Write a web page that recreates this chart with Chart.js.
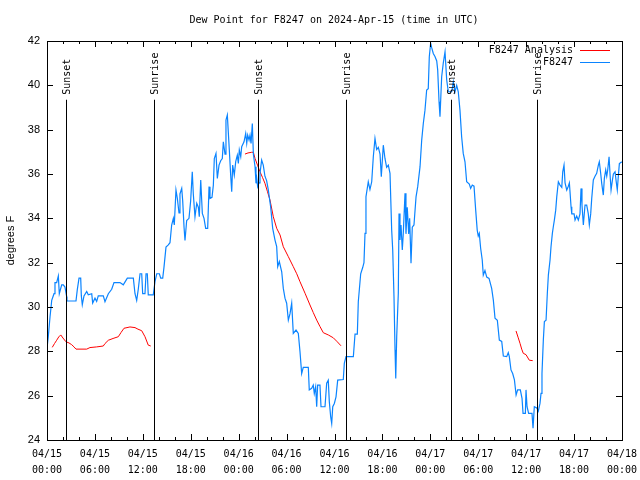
<!DOCTYPE html>
<html>
<head>
<meta charset="utf-8">
<script src="https://cdn.jsdelivr.net/npm/chart.js@4/dist/chart.umd.min.js"></script>
<style>
  body { margin: 0; background: #fff; }
  #wrap { width: 640px; height: 480px; }
</style>
</head>
<body>
<div id="wrap"><canvas id="dewChart" width="640" height="480"></canvas></div>
<script>
// hours since 2024-04-15 00:00 UTC
var obsHours = [0,0.16,0.38,0.59,0.88,1.00,1.21,1.42,1.54,1.84,2.04,2.25,2.47,2.5,3.63,3.79,4.01,4.22,4.30,4.42,4.63,4.97,5.17,5.60,5.72,6.01,6.22,6.42,7.05,7.26,7.68,8.10,8.39,9.14,9.55,9.89,10.06,10.81,11.02,11.23,11.43,11.65,11.86,11.98,12.27,12.40,12.56,12.68,13.31,13.52,13.74,14.07,14.24,14.49,14.65,14.90,15.19,15.40,15.61,15.82,15.94,16.15,16.32,16.53,16.65,16.87,16.99,17.16,17.28,17.49,17.78,17.99,18.19,18.32,18.53,18.75,18.95,19.07,19.25,19.45,19.66,19.87,20.12,20.29,20.41,20.66,20.83,20.95,21.16,21.33,21.54,21.75,21.95,22.08,22.29,22.41,22.58,22.70,22.83,23.00,23.13,23.25,23.45,23.63,23.83,23.96,24.08,24.26,24.38,24.67,24.88,25.01,25.13,25.30,25.42,25.55,25.71,25.84,26.05,26.17,26.26,26.38,26.55,26.67,26.88,27.08,27.29,27.50,27.71,28.01,28.26,28.55,28.76,28.89,29.09,29.39,29.59,29.80,30.01,30.22,30.43,30.64,30.84,31.18,31.47,31.68,31.89,32.09,32.72,32.84,33.14,33.34,33.47,33.64,33.77,33.89,34.18,34.31,34.81,35.02,35.22,35.35,35.52,35.65,35.78,35.98,36.19,36.40,37.10,37.23,37.44,38.36,38.57,38.86,38.98,39.28,39.53,39.69,39.82,39.94,40.23,40.44,40.66,40.86,41.07,41.28,41.49,41.70,41.86,42.11,42.32,42.53,42.74,42.95,43.16,43.29,43.45,43.58,43.67,43.79,43.99,44.08,44.20,44.33,44.49,44.61,44.83,44.95,45.11,45.29,45.41,45.58,45.74,45.95,46.21,46.42,46.71,46.92,47.12,47.33,47.54,47.74,47.87,48.04,48.17,48.37,48.58,48.80,48.92,49.09,49.21,49.42,49.62,49.84,50.05,50.25,50.68,50.88,51.09,51.30,51.50,51.71,51.92,52.12,52.34,52.55,52.88,53.05,53.25,53.47,53.68,53.87,54.00,54.13,54.30,54.50,54.63,54.84,55.06,55.35,55.68,55.89,56.10,56.39,56.64,56.94,57.14,57.56,57.76,57.89,58.10,58.31,58.53,58.74,58.93,59.27,59.48,59.61,59.90,59.98,60.11,60.31,60.73,60.86,61.02,61.32,61.52,61.73,61.86,61.98,62.15,62.28,62.49,62.65,62.78,62.99,63.11,63.28,63.40,63.53,63.70,63.83,64.03,64.24,64.46,64.58,64.74,64.87,65.08,65.28,65.41,65.49,65.62,65.71,66.00,66.12,66.33,66.53,66.74,66.87,66.99,67.16,67.37,67.58,67.78,67.91,68.08,68.21,68.41,68.62,68.83,69.04,69.16,69.34,69.46,69.66,69.79,69.96,70.09,70.21,70.38,70.50,70.63,70.79,70.92,71.13,71.26,71.41,71.54,71.67,71.97];
var obsDew = [28.14,28.66,29.56,30.3,30.6,31.1,31.1,31.4,30.6,31.0,31.0,30.9,30.46,30.27,30.27,30.77,31.3,31.3,30.5,30.1,30.5,30.7,30.55,30.6,30.18,30.4,30.25,30.5,30.5,30.24,30.6,30.8,31.1,31.1,31.0,31.2,31.3,31.3,30.6,30.3,30.8,31.5,31.5,30.6,30.6,31.5,31.5,30.55,30.55,31.14,31.5,31.5,31.3,31.3,31.8,32.7,32.8,32.9,33.7,34.0,33.7,35.28,34.9,34.24,35.1,35.35,34.8,33.6,33.0,33.9,34.0,34.8,36.1,35.1,34.07,34.68,34.5,34.07,35.73,34.22,34.0,33.55,33.55,35.43,34.9,34.95,35.5,36.7,36.93,35.8,36.4,36.6,36.7,37.45,36.9,38.43,38.66,37.9,37.08,35.95,35.2,36.4,35.95,36.56,36.85,36.48,37.08,36.78,37.23,37.45,37.83,37.38,37.75,37.53,37.75,37.38,38.28,36.9,36.33,35.58,35.8,35.43,35.6,36.03,36.63,36.4,35.9,35.7,35.28,34.5,33.55,33.02,32.72,31.82,32.05,31.59,30.84,30.4,30.17,29.41,29.7,30.17,28.81,28.96,28.81,27.98,27.0,27.28,27.28,26.26,26.33,26.48,26.1,26.4,25.5,26.48,26.48,25.5,25.5,26.56,26.7,25.73,25.05,24.75,25.5,25.65,25.95,26.7,26.73,27.46,27.76,27.76,28.78,28.78,30.24,31.5,31.78,32.0,33.32,34.97,35.65,35.3,35.65,36.78,37.6,37.1,37.2,36.9,35.88,37.3,36.7,36.3,36.4,36.03,33.47,32.57,30.46,28.06,26.78,28.66,30.62,34.22,33.02,33.7,32.57,33.3,35.13,33.3,34.5,33.3,34.0,31.97,33.6,33.7,34.97,35.43,36.33,37.53,38.28,38.88,39.79,39.85,41.29,41.9,41.7,41.44,41.3,41.1,40.7,39.26,38.58,40.39,41.0,41.51,40.24,39.71,39.71,40.16,39.71,40.0,39.71,38.88,37.68,36.93,36.55,35.65,35.55,35.35,35.5,35.45,34.37,33.47,33.2,33.32,32.65,32.12,31.44,31.65,31.35,31.29,30.84,30.31,29.49,29.4,28.51,28.45,27.79,27.76,27.94,27.76,27.16,27.0,26.71,26.03,26.26,26.26,25.88,25.2,25.2,26.26,25.5,25.2,25.2,24.53,25.5,25.45,25.3,25.65,26.1,27.0,28.51,29.34,29.4,30.62,31.44,32.12,32.72,33.32,33.62,33.92,34.37,34.97,35.65,35.5,35.4,36.1,36.4,35.6,35.28,35.45,35.6,35.2,34.52,34.2,34.2,33.92,34.1,33.92,34.2,35.35,34.6,33.7,34.6,34.6,34.2,33.7,34.2,34.9,35.73,35.9,36.03,36.4,36.55,36.0,35.58,35.05,35.8,36.18,35.9,36.18,36.78,36.0,35.28,35.7,36.0,36.1,35.7,35.28,35.9,36.47,36.55];

// analysis series, null = gap
var anaHours = [0.66,0.94,1.21,1.47,1.72,2.0,2.38,2.75,3.09,3.38,3.63,4.97,5.38,6.22,7.05,7.26,7.68,8.27,8.93,9.27,9.64,10.39,11.02,11.39,11.86,12.27,12.68,12.99,
  18,
  24.79,25.17,25.63,25.84,26.05,26.36,26.67,26.98,27.29,27.61,27.92,28.34,28.76,29.18,29.59,30.22,30.84,31.27,31.68,32.31,32.93,33.34,33.77,34.18,34.60,35.22,35.85,36.35,36.81,
  48,
  58.73,58.98,59.23,59.44,59.64,59.98,60.39,60.82];
var anaDew = [28.18,28.35,28.5,28.65,28.74,28.6,28.43,28.38,28.3,28.2,28.1,28.1,28.17,28.2,28.24,28.35,28.5,28.58,28.66,28.85,29.04,29.1,29.07,29.0,28.93,28.66,28.28,28.24,
  null,
  36.9,36.95,36.98,36.98,36.7,36.4,36.1,35.85,35.58,35.2,34.83,34.07,33.55,33.25,32.72,32.27,31.82,31.5,31.14,30.62,30.09,29.75,29.41,29.12,28.84,28.74,28.61,28.43,28.25,
  null,
  28.92,28.64,28.36,28.1,27.91,27.85,27.6,27.58];

var sunHours = [2.44, 13.34, 26.48, 37.38, 50.53, 61.30];
var sunLabels = ["Sunset", "Sunrise", "Sunset", "Sunrise", "Sunset", "Sunrise"];
var xTickHours = [0, 6, 12, 18, 24, 30, 36, 42, 48, 54, 60, 66, 72];
var yTicks = [24, 26, 28, 30, 32, 34, 36, 38, 40, 42];

var MONO = "'DejaVu Sans Mono', monospace";
var SANS = "'Liberation Sans', Arial, sans-serif";

function toPoints(xs, ys) {
  var out = [];
  for (var i = 0; i < xs.length; i++) out.push({ x: xs[i], y: ys[i] });
  return out;
}

function hourLabel(h) {
  var day = 15 + Math.floor(h / 24);
  var hr = h % 24;
  return ["04/" + day, (hr < 10 ? "0" : "") + hr + ":00"];
}

var decor = {
  id: "decor",
  afterDraw: function(chart) {
    var ctx = chart.ctx, a = chart.chartArea;
    var xs = chart.scales.x, ys = chart.scales.y;
    ctx.save();
    ctx.strokeStyle = "#000";
    ctx.lineWidth = 1;

    // inward ticks on all sides
    ctx.beginPath();
    yTicks.forEach(function(v) {
      var y = Math.round(ys.getPixelForValue(v)) + 0.5;
      ctx.moveTo(a.left, y); ctx.lineTo(a.left + 6, y);
      ctx.moveTo(a.right, y); ctx.lineTo(a.right - 6, y);
    });
    for (var h = 0; h <= 72; h += 2) {
      var x = Math.round(xs.getPixelForValue(h)) + 0.5;
      var len = (h % 6 === 0) ? 6 : 3;
      ctx.moveTo(x, a.bottom); ctx.lineTo(x, a.bottom - len);
      ctx.moveTo(x, a.top); ctx.lineTo(x, a.top + len);
    }
    ctx.stroke();

    // frame
    ctx.strokeRect(Math.round(a.left) + 0.5, Math.round(a.top) + 0.5,
      Math.round(a.right - a.left), Math.round(a.bottom - a.top));

    // sunrise / sunset markers
    ctx.fillStyle = "#000";
    ctx.font = "10px " + MONO;
    sunHours.forEach(function(h, i) {
      var x = Math.round(xs.getPixelForValue(h)) + 0.5;
      var yTop = ys.getPixelForValue(39.35);
      ctx.beginPath();
      ctx.moveTo(x, yTop); ctx.lineTo(x, a.bottom);
      ctx.stroke();
      ctx.save();
      ctx.translate(x + 1, yTop - 5);
      ctx.rotate(-Math.PI / 2);
      ctx.textAlign = "left";
      ctx.textBaseline = "middle";
      ctx.fillText(sunLabels[i], 0, 0);
      ctx.restore();
    });

    // legend (top right, inside plot)
    var items = [
      { label: chart.data.datasets[1].label, color: chart.data.datasets[1].borderColor },
      { label: chart.data.datasets[0].label, color: chart.data.datasets[0].borderColor }
    ];
    ctx.textAlign = "right";
    ctx.textBaseline = "middle";
    items.forEach(function(it, i) {
      var y = a.top + 9 + i * 12;
      ctx.fillStyle = "#000";
      ctx.fillText(it.label, a.right - 49, y);
      ctx.strokeStyle = it.color;
      ctx.beginPath();
      ctx.moveTo(a.right - 42, Math.round(y) + 0.5);
      ctx.lineTo(a.right - 12, Math.round(y) + 0.5);
      ctx.stroke();
    });

    // title and y axis title
    ctx.fillStyle = "#000";
    ctx.textAlign = "center";
    ctx.textBaseline = "middle";
    ctx.fillText("Dew Point for F8247 on 2024-Apr-15 (time in UTC)", 334, 20);
    ctx.save();
    ctx.translate(11, (a.top + a.bottom) / 2);
    ctx.rotate(-Math.PI / 2);
    ctx.font = "11px " + SANS;
    ctx.fillText("degrees F", 0, 0);
    ctx.restore();
    ctx.restore();
  }
};

new Chart(document.getElementById("dewChart"), {
  type: "line",
  data: {
    datasets: [
      {
        label: "F8247",
        data: toPoints(obsHours, obsDew),
        borderColor: "#0a84ff",
        borderWidth: 1.2,
        pointRadius: 0,
        tension: 0,
        fill: false
      },
      {
        label: "F8247 Analysis",
        data: toPoints(anaHours, anaDew),
        borderColor: "#ff0000",
        borderWidth: 1,
        pointRadius: 0,
        tension: 0,
        spanGaps: false,
        fill: false
      }
    ]
  },
  options: {
    responsive: false,
    animation: false,
    layout: { padding: { top: 41, right: 18, left: 0, bottom: 0 } },
    plugins: {
      legend: { display: false },
      title: { display: false },
      tooltip: { enabled: false }
    },
    scales: {
      x: {
        type: "linear",
        min: 0,
        max: 72,
        afterFit: function(s) {
          s.height = 40;
          s.paddingLeft = 0;
          s.paddingRight = 0;
        },
        afterBuildTicks: function(s) {
          s.ticks = xTickHours.map(function(v) { return { value: v }; });
        },
        grid: { display: false, drawTicks: false },
        border: { display: false },
        ticks: {
          padding: 6,
          maxRotation: 0,
          autoSkip: false,
          color: "#000",
          font: { family: MONO, size: 10, lineHeight: 1.6 },
          callback: function(v) { return hourLabel(v); }
        }
      },
      y: {
        min: 24,
        max: 42,
        afterFit: function(s) {
          s.width = 47;
          s.paddingTop = 0;
          s.paddingBottom = 0;
        },
        afterBuildTicks: function(s) {
          s.ticks = yTicks.map(function(v) { return { value: v }; });
        },
        grid: { display: false, drawTicks: false },
        border: { display: false },
        ticks: {
          padding: 7,
          color: "#000",
          font: { family: SANS, size: 11 }
        }
      }
    }
  },
  plugins: [decor]
});
</script>
</body>
</html>
